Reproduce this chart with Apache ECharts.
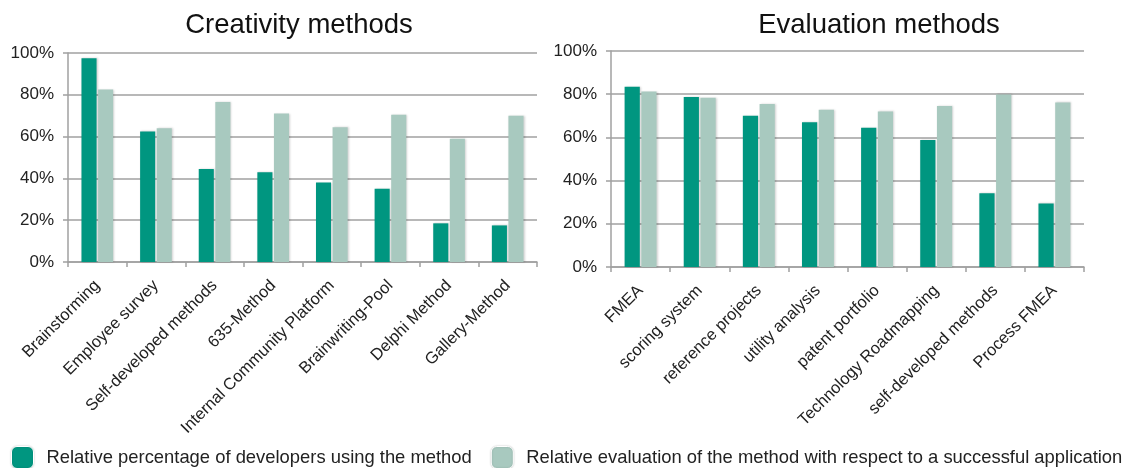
<!DOCTYPE html>
<html>
<head>
<meta charset="utf-8">
<script src="https://cdn.jsdelivr.net/npm/echarts@6/dist/echarts.min.js"></script>
<style>
html,body{margin:0;padding:0;background:#fff;}
#chart{width:1124px;height:468px;}
</style>
</head>
<body>
<div id="chart"></div>
<script>
const creativityCategories = ['Brainstorming', 'Employee survey', 'Self-developed methods', '635-Method', 'Internal Community Platform', 'Brainwriting-Pool', 'Delphi Method', 'Gallery-Method'];
const creativityUsage = [97.5, 62.5, 44.5, 43, 38, 35, 18.5, 17.5];
const creativityEvaluation = [82.5, 64, 76.5, 71, 64.5, 70.5, 59, 70];

const evaluationCategories = ['FMEA', 'scoring system', 'reference projects', 'utility analysis', 'patent portfolio', 'Technology Roadmapping', 'self-developed methods', 'Process FMEA'];
const evaluationUsage = [83.5, 78.7, 70, 67, 64.5, 58.8, 34.2, 29.4];
const evaluationEvaluation = [81.2, 78.4, 75.5, 72.8, 72, 74.5, 79.9, 76.2];

const titles = ['Creativity methods', 'Evaluation methods'];
const seriesNames = ['Relative percentage of developers using the method', 'Relative evaluation of the method with respect to a successful application'];
const yTicks = { min: 0, max: 100, interval: 20 };

const FONT = 'Liberation Sans, Arial, Helvetica, sans-serif';
const DARK = '#009680';
const LIGHT = '#a8c9bf';
const GRID = '#a0a0a0';

const chart = echarts.init(document.getElementById('chart'), null, { renderer: 'canvas' });

function xAxis(idx, cats) {
  return {
    type: 'category', gridIndex: idx, data: cats,
    axisLine: { lineStyle: { color: GRID, width: 1.5 } },
    axisTick: { show: true, length: 5, lineStyle: { color: GRID, width: 1.5 } },
    axisLabel: { rotate: 45, margin: 21, fontSize: 16.5, color: '#222', fontFamily: FONT, interval: 0 }
  };
}
function yAxis(idx) {
  return {
    type: 'value', gridIndex: idx, min: yTicks.min, max: yTicks.max, interval: yTicks.interval,
    axisLine: { show: true, lineStyle: { color: GRID, width: 1.5 } },
    axisTick: { show: true, length: 5, lineStyle: { color: GRID, width: 1.5 } },
    splitLine: { lineStyle: { color: GRID, width: 1.5 } },
    axisLabel: { formatter: '{value}%', margin: 14, fontSize: 17, color: '#222', fontFamily: FONT }
  };
}
function bar(name, idx, data, color) {
  return {
    name: name, type: 'bar', xAxisIndex: idx, yAxisIndex: idx, data: data,
    barGap: '10%', barCategoryGap: '46%',
    itemStyle: { color: color, shadowColor: 'rgba(0,0,0,0.18)', shadowBlur: 2, shadowOffsetX: 1 },
    emphasis: { disabled: true }
  };
}

chart.setOption({
  animation: false,
  backgroundColor: '#fff',
  textStyle: { fontFamily: FONT },
  title: [
    { text: titles[0], left: 294, top: 6, textAlign: 'center', textStyle: { fontSize: 27.5, fontWeight: 'normal', color: '#111', fontFamily: FONT } },
    { text: titles[1], left: 874, top: 6, textAlign: 'center', textStyle: { fontSize: 27.5, fontWeight: 'normal', color: '#111', fontFamily: FONT } }
  ],
  legend: {
    left: 11, top: 446, padding: 0, itemWidth: 22, itemHeight: 22, itemGap: 19, icon: 'roundRect',
    data: seriesNames,
    itemStyle: { borderColor: '#fff', borderWidth: 1, shadowColor: 'rgba(0,0,0,0.2)', shadowBlur: 2 },
    textStyle: { fontSize: 18.4, color: '#222', fontFamily: FONT, padding: [0, 0, 0, 8] }
  },
  grid: [
    { left: 68, right: 1124 - 537, top: 53, bottom: 468 - 262, containLabel: false },
    { left: 611, right: 1124 - 1084, top: 51, bottom: 468 - 267, containLabel: false }
  ],
  xAxis: [xAxis(0, creativityCategories), xAxis(1, evaluationCategories)],
  yAxis: [yAxis(0), yAxis(1)],
  series: [
    bar(seriesNames[0], 0, creativityUsage, DARK),
    bar(seriesNames[1], 0, creativityEvaluation, LIGHT),
    bar(seriesNames[0], 1, evaluationUsage, DARK),
    bar(seriesNames[1], 1, evaluationEvaluation, LIGHT)
  ]
});
</script>
</body>
</html>
